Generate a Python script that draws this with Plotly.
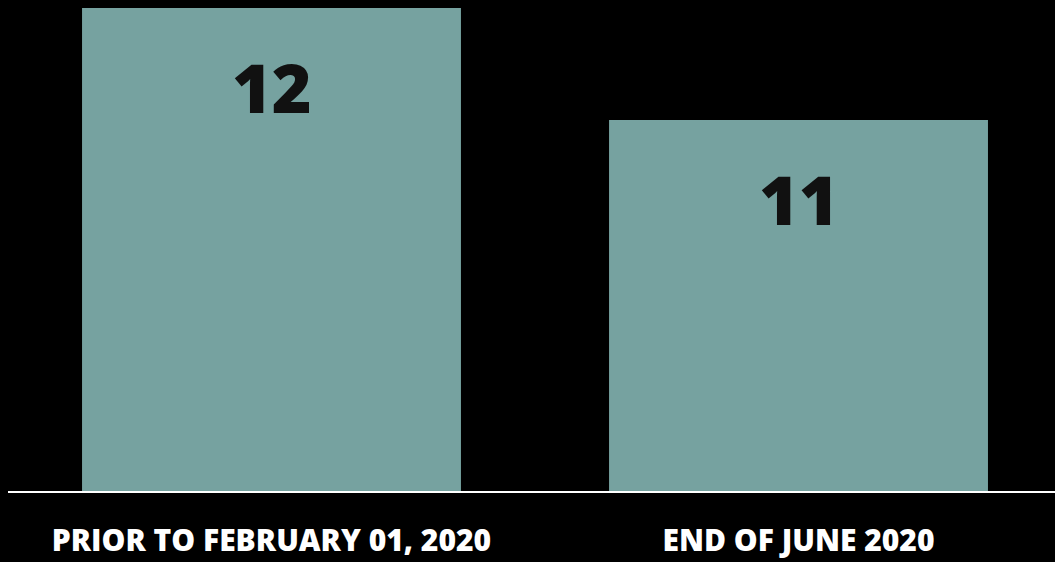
import plotly.graph_objects as go

categories = ["PRIOR TO FEBRUARY 01, 2020", "END OF JUNE 2020"]
values = [12, 11]
value_labels = ["12", "11"]

BAR_COLOR = "#76a2a0"

fig = go.Figure()
fig.add_trace(go.Bar(
    x=categories, y=values,
    marker=dict(color=BAR_COLOR, line=dict(width=0)),
    hoverinfo="skip",
))

for c, v, t in zip(categories, values, value_labels):
    fig.add_annotation(
        x=c, y=v, text=t, showarrow=False,
        yanchor="middle", yshift=-78,
        font=dict(family="Open Sans", size=68, color="#111111", weight=800),
    )

fig.update_layout(
    width=1055, height=562,
    margin=dict(l=8, r=0, t=0, b=71, autoexpand=False),
    paper_bgcolor="black", plot_bgcolor="black",
    bargap=0.281,
    showlegend=False,
    xaxis=dict(
        range=[-0.5, 1.4867],
        automargin=False,
        showline=True, linecolor="white", linewidth=2,
        showgrid=False, zeroline=False,
        ticks="outside", ticklen=22, tickcolor="rgba(0,0,0,0)",
        tickfont=dict(family="Open Sans", size=30, color="white", weight=800),
    ),
    yaxis=dict(
        range=[7.6875, 12.0714],
        automargin=False,
        visible=False, showgrid=False, zeroline=False,
    ),
)

fig.write_html("out.html")
